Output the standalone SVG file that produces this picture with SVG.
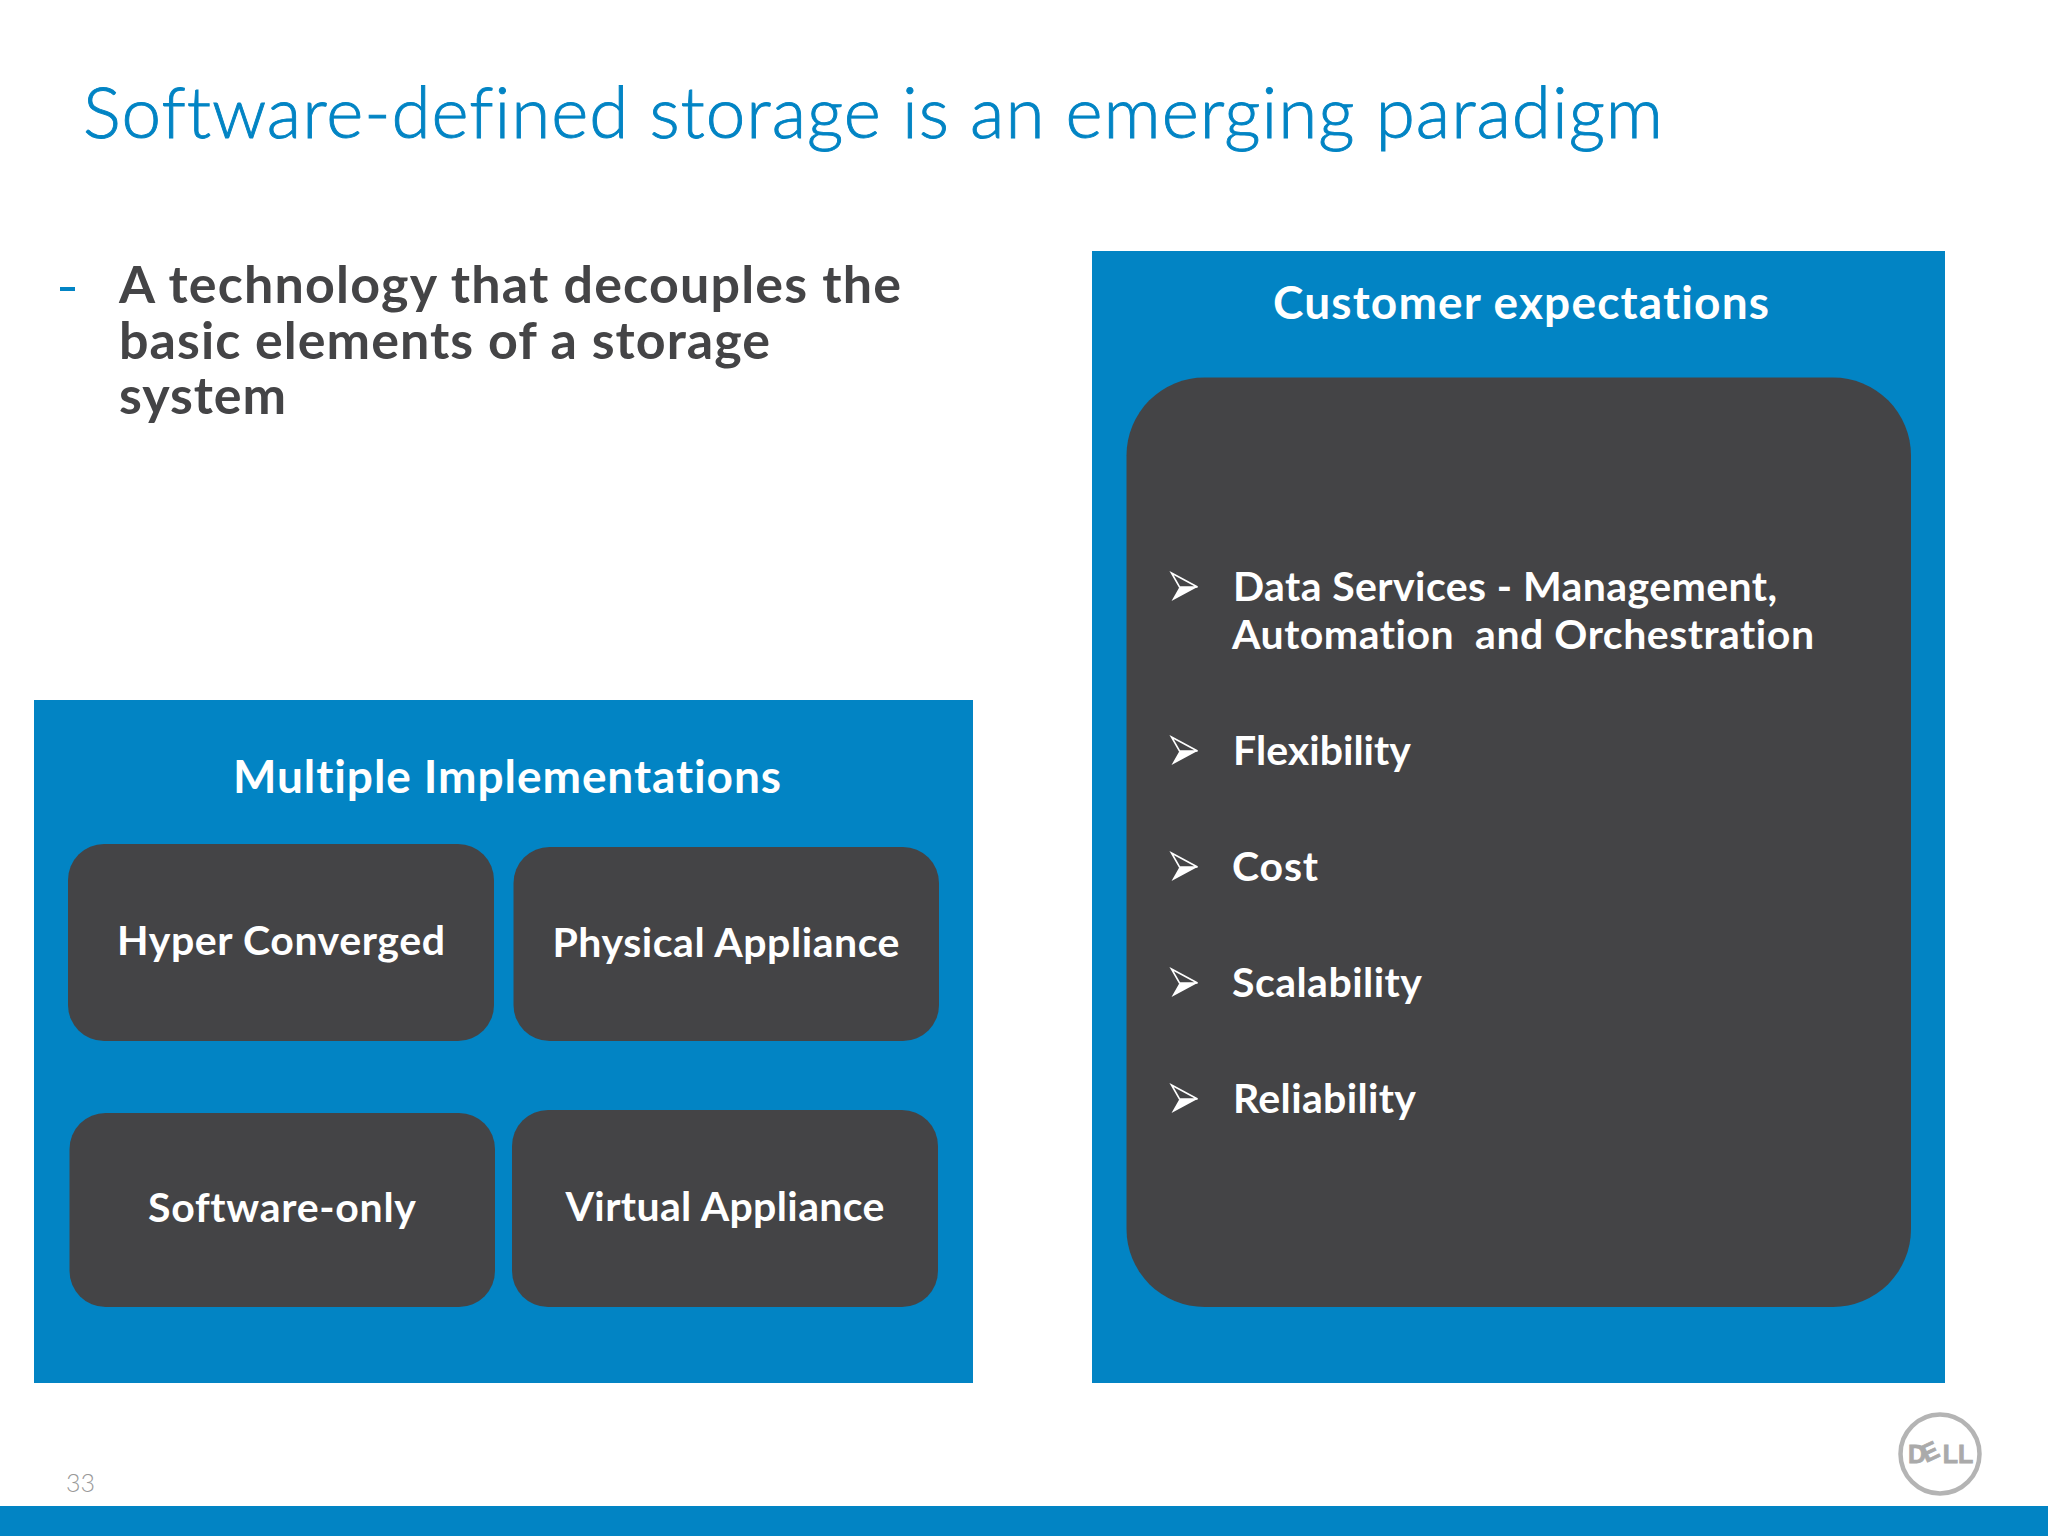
<svg xmlns="http://www.w3.org/2000/svg" width="2048" height="1536" viewBox="0 0 2048 1536">
<style>
text{font-family:"Lato","Noto Sans","Liberation Sans",sans-serif;font-variant-ligatures:none;white-space:pre}
.blue{fill:#0284c4}
.dark{fill:#444446}
.h{fill:#fff;font-size:46px;font-weight:700;text-anchor:middle}
.n{fill:#fff;font-size:41px;font-weight:700;text-anchor:middle}
.b{fill:#fff;font-size:41px;font-weight:700}
.m{fill:#444446;font-size:52px;font-weight:700}
</style>
<defs>
<g id="arrow"><path d="M0 0 L26 14 L0 28 L8 14 Z" fill="#fff"/><path d="M0 0 L26 14 L8 14 Z" fill="#444446" stroke="#fff" stroke-width="1.6"/></g>
</defs>
<rect width="2048" height="1536" fill="#fff"/>
<text id="title" x="83" y="138" font-size="71" font-weight="300" fill="#0284c4" stroke="#0284c4" stroke-width="0.9" textLength="1580" lengthAdjust="spacing">Software-defined storage is an emerging paradigm</text>
<g id="bullet">
<rect x="60" y="287" width="15" height="4" fill="#0284c4"/>
<text class="m" x="119" y="303" textLength="782" lengthAdjust="spacing">A technology that decouples the</text>
<text class="m" x="119" y="359" textLength="651" lengthAdjust="spacing">basic elements of a storage</text>
<text class="m" x="119" y="414" textLength="167" lengthAdjust="spacing">system</text>
</g>
<g id="multiple-implementations">
<rect class="blue" x="34" y="700" width="939" height="683"/>
<text class="h" x="507" y="793" textLength="548" lengthAdjust="spacing">Multiple Implementations</text>
</g>
<g id="hyper-converged"><rect class="dark" x="68" y="844" width="426" height="197" rx="36"/><text class="n" x="281" y="955" textLength="328" lengthAdjust="spacing">Hyper Converged</text></g>
<g id="physical-appliance"><rect class="dark" x="513.500" y="847" width="425.500" height="194" rx="36"/><text class="n" x="726" y="957" textLength="347" lengthAdjust="spacing">Physical Appliance</text></g>
<g id="software-only"><rect class="dark" x="69.500" y="1113" width="425.500" height="194" rx="36"/><text class="n" x="282" y="1222" textLength="268" lengthAdjust="spacing">Software-only</text></g>
<g id="virtual-appliance"><rect class="dark" x="512" y="1110" width="426" height="197" rx="36"/><text class="n" x="725" y="1221" textLength="319" lengthAdjust="spacing">Virtual Appliance</text></g>
<g id="customer-expectations">
<rect class="blue" x="1092" y="251" width="853" height="1132"/>
<text class="h" x="1521" y="319" textLength="496" lengthAdjust="spacing">Customer expectations</text>
<rect class="dark" x="1126.500" y="377.500" width="784.500" height="929.500" rx="78"/>
<use href="#arrow" x="1171.500" y="573"/>
<text class="b" x="1233" y="601" textLength="544" lengthAdjust="spacing">Data Services - Management,</text>
<text class="b" x="1232" y="649" textLength="582" lengthAdjust="spacing">Automation  and Orchestration</text>
<use href="#arrow" x="1171.500" y="737"/>
<text class="b" x="1233" y="765" textLength="178" lengthAdjust="spacing">Flexibility</text>
<use href="#arrow" x="1171.500" y="853"/>
<text class="b" x="1232" y="881" textLength="86" lengthAdjust="spacing">Cost</text>
<use href="#arrow" x="1171.500" y="969"/>
<text class="b" x="1232" y="997" textLength="190" lengthAdjust="spacing">Scalability</text>
<use href="#arrow" x="1171.500" y="1085"/>
<text class="b" x="1233" y="1113" textLength="183" lengthAdjust="spacing">Reliability</text>
</g>
<text id="page" x="66" y="1492" font-size="25" font-weight="300" fill="#999" textLength="29" lengthAdjust="spacing">33</text>
<g id="logo">
<circle cx="1940" cy="1454" r="39.500" fill="#fff" stroke="#b4b4b4" stroke-width="4.500"/>
<text x="1908" y="1463" font-size="25" font-weight="700" fill="#aaa" stroke="#aaa" stroke-width="0.800" style="font-family:'Liberation Sans',sans-serif" rotate="0 -25 0 0">DELL</text>
</g>
<rect id="bar" class="blue" x="0" y="1506" width="2048" height="30"/>
</svg>
